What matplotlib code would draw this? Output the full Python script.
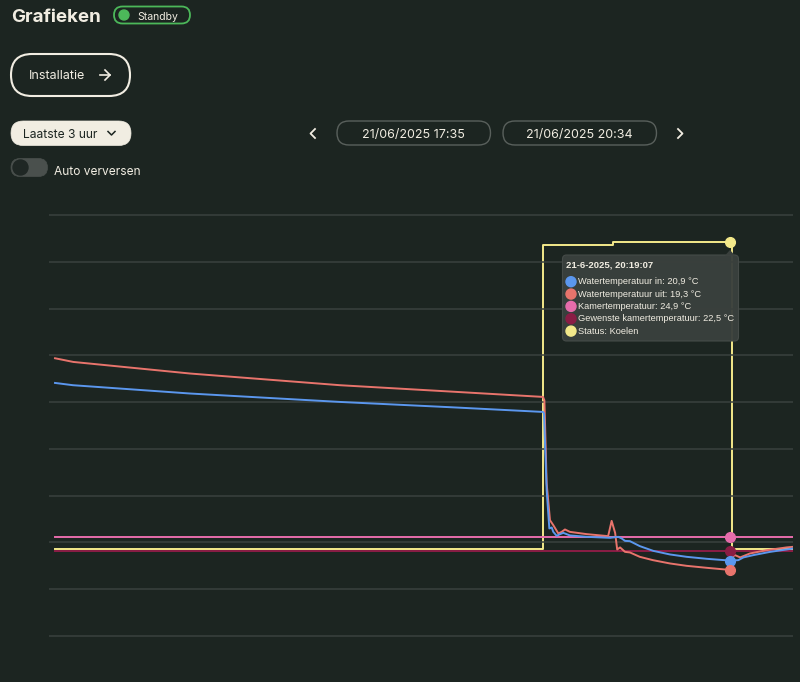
import matplotlib.pyplot as plt
from matplotlib.patches import FancyBboxPatch, Circle, Polygon

# minutes after 21/06/2025 17:35
t_uit = [0, 4.45, 32.83, 69.3, 96.05, 118.66, 119.0, 119.55, 120.36, 121.16, 122.38, 123.2,
         124.0, 125.2, 129.3, 134.5, 135.35, 136.2, 136.7, 137.4, 138.6, 139.8, 142.2, 145.4,
         149.5, 153.6, 158.5, 164.13, 164.7, 165.35, 166.6, 169.0, 173.05, 177.9, 179.45]
water_uit = [55.5, 54.87, 52.89, 50.89, 49.81, 48.89, 48.3, 34.1, 27.8, 26.96, 25.54, 25.81,
             26.22, 25.81, 25.42, 25.08, 27.69, 25.64, 22.8, 23.15, 22.39, 22.29, 21.54, 20.97,
             20.41, 20.0, 19.66, 19.3, 21.54, 21.83, 21.44, 22.12, 22.68, 23.15, 23.25]

t_in = [0, 4.38, 32.83, 69.3, 96.05, 118.66, 118.9, 119.55, 120.2, 120.78, 121.16, 121.99,
        122.8, 123.6, 125.2, 129.3, 134.95, 136.97, 137.8, 138.6, 139.8, 142.2, 145.47, 149.5,
        153.6, 158.5, 164.13, 166.15, 167.4, 169.8, 173.9, 177.9, 179.45]
water_in = [51.28, 50.89, 49.47, 48.03, 47.13, 46.32, 46.1, 32.94, 26.39, 26.56, 25.81, 25.13,
            25.42, 25.64, 25.2, 24.96, 24.79, 24.96, 24.68, 24.27, 24.22, 23.37, 22.56, 21.95,
            21.54, 21.2, 20.9, 20.97, 21.44, 21.83, 22.39, 22.8, 22.97]

t_vlak = [0, 179.45]
kamer = [24.9, 24.9]
gewenst = [22.5, 22.5]

t_status = [0, 118.66, 135.76, 164.5, 179.45]
status = [0, 0.99, 1.0, 0, 0]

hover_t = 164.13
hover = {"in": 20.9, "uit": 19.3, "kamer": 24.9, "gewenst": 22.5, "status": 1.0}
y_ticks = [8, 16, 24, 32, 40, 48, 56, 64, 72, 80]

tooltip_title = "21-6-2025, 20:19:07"
tooltip_rows = ["Watertemperatuur in: 20,9 °C", "Watertemperatuur uit: 19,3 °C",
                "Kamertemperatuur: 24,9 °C", "Gewenste kamertemperatuur: 22,5 °C",
                "Status: Koelen"]

BG = "#1c2521"
GRID = "#3a413e"
CREAM = "#f1ede2"
RED = "#e8746c"
BLUE = "#5b97ee"
PINK = "#e66cab"
MAROON = "#8a1d45"
YELLOW = "#f3e98a"
GREEN = "#4cb85a"
row_colors = [BLUE, RED, PINK, MAROON, YELLOW]

fig = plt.figure(figsize=(8, 6.82), dpi=100, facecolor=BG)

# chart area: 49..793 px wide, temperature 7..81
ax = fig.add_axes([49 / 800, (682 - 641.85) / 682, 744 / 800, (641.85 - 209.15) / 682])
ax2 = ax.twinx()
ax.set_xlim(-1.46, 179.45)
ax.set_ylim(7, 81)
ax.set_yticks(y_ticks)
ax.grid(axis="y", color=GRID, lw=1.1)
ax.tick_params(which="both", left=False, right=False, bottom=False, top=False,
               labelleft=False, labelright=False, labelbottom=False)
for s in ax.spines.values():
    s.set_visible(False)

ax2.set_ylim(-0.3027, 1.1081)
ax2.axis("off")
ax2.plot(t_status, status, color=YELLOW, lw=1.4, drawstyle="steps-post")
ax2.plot([hover_t], [hover["status"]], "o", color=YELLOW, ms=7)
ax2.set_zorder(1)
ax.set_zorder(2)
ax.patch.set_visible(False)

ax.plot(t_vlak, gewenst, color=MAROON, lw=1.4)
ax.plot(t_vlak, kamer, color=PINK, lw=1.4)
ax.plot(t_uit, water_uit, color=RED, lw=1.4)
ax.plot(t_in, water_in, color=BLUE, lw=1.4)
for key, c in [("kamer", PINK), ("gewenst", MAROON), ("in", BLUE), ("uit", RED)]:
    ax.plot([hover_t], [hover[key]], "o", color=c, ms=7, zorder=5)

# interface overlay in pixel coordinates
ui = fig.add_axes([0, 0, 1, 1])
ui.set_xlim(0, 800)
ui.set_ylim(682, 0)
ui.axis("off")
ui.set_zorder(10)
UIF = ["Inter", "DejaVu Sans"]


def pill(x0, y0, x1, y1, face, edge, lw):
    h = y1 - y0
    ui.add_patch(FancyBboxPatch((x0, y0), x1 - x0, h, boxstyle=f"round,pad=0,rounding_size={h / 2}",
                                fc=face, ec=edge, lw=lw))


ui.text(11, 21.7, "Grafieken", color=CREAM, fontsize=13.5, fontweight="bold", family=UIF, va="baseline")
pill(114, 6.5, 190, 23.5, BG, GREEN, 1.3)
ui.add_patch(Circle((124, 15), 5, color=GREEN))
ui.text(137, 19.5, "Standby", color=CREAM, fontsize=7.5, family=UIF, va="baseline")

pill(11, 54, 130, 96, "none", CREAM, 1.5)
ui.text(29, 79.3, "Installatie", color=CREAM, fontsize=9.0, family=UIF, va="baseline")
ui.plot([99.5, 109.5], [75, 75], color=CREAM, lw=1.2)
ui.plot([105, 110, 105], [70, 75, 80], color=CREAM, lw=1.2)

pill(11, 121, 131, 145.5, CREAM, CREAM, 0.5)
ui.text(23, 137.5, "Laatste 3 uur", color=BG, fontsize=8.7, family=UIF, va="baseline")
ui.plot([108, 111.5, 115], [131.5, 135, 131.5], color=BG, lw=1.1)

pill(11, 158.5, 47.5, 176.5, "#4a504d", "#4a504d", 0.5)
ui.add_patch(Circle((20.5, 167.5), 7.5, color="#1f2724"))
ui.text(54, 175, "Auto verversen", color=CREAM, fontsize=8.6, family=UIF, va="baseline")

pill(337, 121, 490.5, 145, "none", "#59605c", 1.0)
pill(503, 121, 656.5, 145, "none", "#59605c", 1.0)
ui.text(413.7, 137.7, "21/06/2025 17:35", color=CREAM, fontsize=9.0, family=UIF, va="baseline", ha="center")
ui.text(579.7, 137.7, "21/06/2025 20:34", color=CREAM, fontsize=9.0, family=UIF, va="baseline", ha="center")
ui.plot([315, 310.5, 315], [129, 133.5, 138], color=CREAM, lw=1.3)
ui.plot([678, 682.5, 678], [129, 133.5, 138], color=CREAM, lw=1.3)

# tooltip
TF = ["Liberation Sans", "DejaVu Sans"]
ui.add_patch(FancyBboxPatch((562.5, 255), 176, 86, boxstyle="round,pad=0,rounding_size=4",
                            fc="#3a403d", ec="#464c49", lw=0.8, alpha=0.97))
ui.add_patch(Polygon([(725, 255.5), (730, 250), (735, 255.5)], closed=True, fc="#3a403d", ec="none"))
ui.text(566.5, 267.7, tooltip_title, color=CREAM, fontsize=6.8, fontweight="bold", family=TF, va="baseline")
for i, (label, c) in enumerate(zip(tooltip_rows, row_colors)):
    yc = 281.7 + i * 12.35
    ui.add_patch(Circle((571, yc), 5, color=c))
    ui.text(577.7, yc + 2.6, label, color=CREAM, fontsize=6.65, family=TF, va="baseline")

fig.savefig("out.png", dpi=100, facecolor=BG)
